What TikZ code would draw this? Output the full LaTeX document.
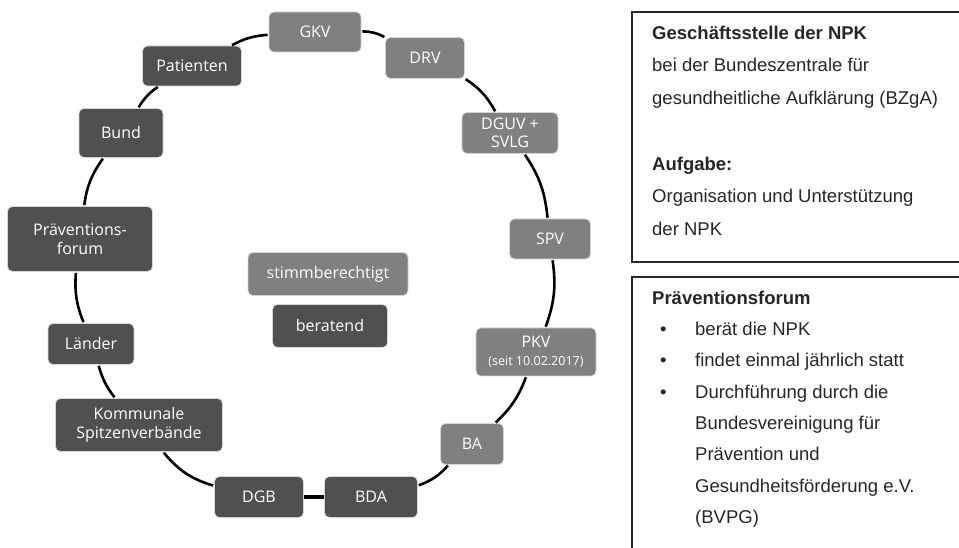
\documentclass[tikz,border=0pt]{standalone}
\usepackage{fontspec}
\setmainfont{Open Sans}
\newfontfamily\sidefont{Liberation Sans}
\usetikzlibrary{positioning}
\definecolor{mdark}{HTML}{505050}
\definecolor{mlight}{HTML}{808080}
\definecolor{mrim}{HTML}{D4D4D4}
\definecolor{mtext}{HTML}{262626}

\begin{document}
\begin{tikzpicture}[x=1pt, y=1pt,
    org/.style={rectangle, rounded corners=5pt, draw=mrim, line width=0.7pt,
      text=white, align=center, inner sep=1pt,
      font=\fontsize{16}{18.5}\selectfont},
    vote/.style={org, fill=mlight},
    adv/.style={org, fill=mdark},
    ring/.style={line width=2.6pt, shorten >=1pt, shorten <=1pt},
    infobox/.style={draw=mtext, line width=1.2pt},
    infotext/.style={inner sep=0pt, align=left, anchor=base west, text=mtext,
      font=\sidefont\fontsize{18.5}{31.3}\selectfont}]

  \useasboundingbox (0,0) rectangle (959,548);

  % stimmberechtigt
  \node [vote, minimum width=92pt, minimum height=40pt] (gkv) at (315,516) {GKV};
  \node [vote, minimum width=79pt, minimum height=41pt] (drv) at (425,490) {DRV};
  \node [vote, minimum width=96pt, minimum height=41pt] (dguv) at (510,415) {DGUV +\\SVLG};
  \node [vote, minimum width=81pt, minimum height=40pt] (spv) at (550,309) {SPV};
  \node [vote, minimum width=120pt, minimum height=48pt] (pkv) at (536,196)
    {PKV\\[-1pt]{\fontsize{12.5}{14}\selectfont(seit 10.02.2017)}};
  \node [vote, minimum width=63pt, minimum height=41pt] (ba) at (472,104) {BA};

  % beratend
  \node [adv, minimum width=93pt, minimum height=41pt] (bda) at (371,51) {BDA};
  \node [adv, minimum width=89pt, minimum height=41pt] (dgb) at (259,51) {DGB};
  \node [adv, minimum width=167pt, minimum height=53pt] (kommunen) at (139,123)
    {Kommunale\\Spitzenverbände};
  \node [adv, minimum width=86pt, minimum height=41pt] (laender) at (91,204) {Länder};
  \node [adv, minimum width=145pt, minimum height=65pt] (forum) at (80,309)
    {Präventions-\\forum};
  \node [adv, minimum width=84pt, minimum height=49pt] (bund) at (121,415) {Bund};
  \node [adv, minimum width=99pt, minimum height=40pt] (patienten) at (192,482) {Patienten};

  % Legende
  \node [vote, minimum width=160pt, minimum height=43pt] (legvote) at (328,274) {stimmberechtigt};
  \node [adv, minimum width=115pt, minimum height=43pt] (legadv) at (330,222) {beratend};

  % Ring
  \draw [ring] (gkv) to[bend left=14] (drv);
  \draw [ring] (drv) to[bend left=14] (dguv);
  \draw [ring] (dguv) to[bend left=14] (spv);
  \draw [ring] (spv) to[bend left=14] (pkv);
  \draw [ring] (pkv) to[bend left=13] (ba);
  \draw [ring] (ba) to[bend left=14] (bda);
  \draw [line width=4.5pt] (bda) -- (dgb);
  \draw [ring] (dgb) to[bend left=17] (kommunen);
  \draw [ring] (kommunen) to[bend left=11] (laender);
  \draw [ring] (laender) to[bend left=13] (forum);
  \draw [ring] (forum) to[bend left=14] (bund);
  \draw [ring] (bund) to[bend left=12] (patienten);
  \draw [ring] (patienten) to[bend left=12] (gkv);

  % Kaesten rechts
  \draw [infobox] (632,286) rectangle (975,536);
  \draw [infobox] (632,-20) rectangle (975,271);

  \node [infotext, font=\sidefont\fontsize{18.5}{32.7}\selectfont] (office) at (652,312.5)
    {\textbf{Geschäftsstelle der NPK}\\
     bei der Bundeszentrale für\\
     gesundheitliche Aufklärung (BZgA)\\[32.7pt]
     \textbf{Aufgabe:}\\
     Organisation und Unterstützung\\
     der NPK};

  \node [infotext] (forumtext) at (652,24.5)
    {\textbf{Präventionsforum}\\
     \hspace*{8pt}\makebox[35pt][l]{\textbullet}berät die NPK\\
     \hspace*{8pt}\makebox[35pt][l]{\textbullet}findet einmal jährlich statt\\
     \hspace*{8pt}\makebox[35pt][l]{\textbullet}Durchführung durch die\\
     \hspace*{43pt}Bundesvereinigung für\\
     \hspace*{43pt}Prävention und\\
     \hspace*{43pt}Gesundheitsförderung e.V.\\
     \hspace*{43pt}(BVPG)};

\end{tikzpicture}
\end{document}
